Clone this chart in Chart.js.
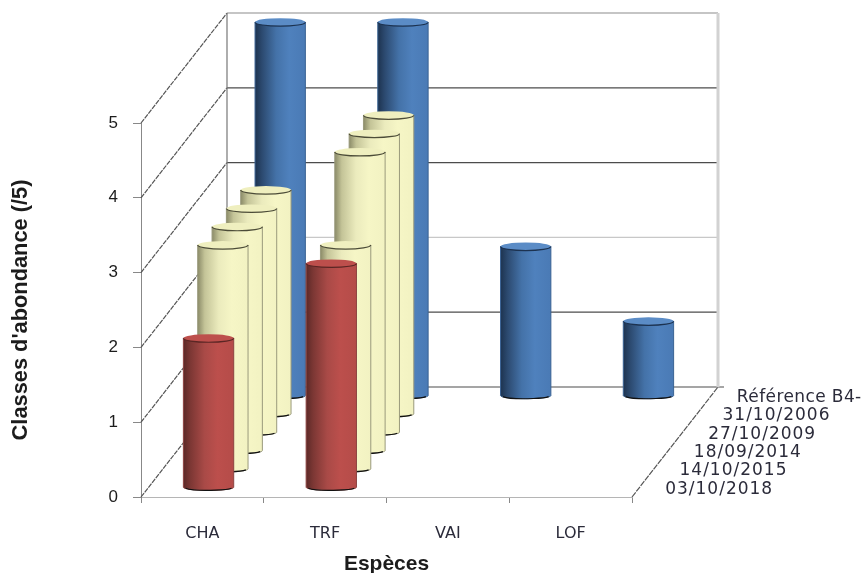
<!DOCTYPE html>
<html>
<head>
<meta charset="utf-8">
<title>Classes d'abondance</title>
<script src="https://cdn.jsdelivr.net/npm/chart.js@4"></script>
<style>
html, body { margin: 0; background: #fff; }
canvas { display: block; filter: blur(0.5px); }
</style>
</head>
<body>
<canvas id="chart" width="864" height="573"></canvas>
<script>
const categories = ['CHA', 'TRF', 'VAI', 'LOF'];
// front to back, same order as the depth axis
const seriesNames = ['03/10/2018', '14/10/2015', '18/09/2014', '27/10/2009', '31/10/2006', 'Référence B4-'];
const serie2018 = [2, 3, null, null];
const serie2015 = [3, 3, null, null];
const serie2014 = [3, 4, null, null];
const serie2009 = [3, 4, null, null];
const serie2006 = [3, 4, null, null];
const serieRef = [5, 5, 2, 1];
const seriesValues = [serie2018, serie2015, serie2014, serie2009, serie2006, serieRef];
const yTicks = [0, 1, 2, 3, 4, 5];

// look of the 3d box
const DEPTH_X = 86;
const DEPTH_Y = -110;
const ELLIPSE_RY = 4;

const palettes = {
    red: {
        stops: ['#5c2927', '#7c3734', '#a94a47', '#bc4f4c', '#b54c49'],
        top: '#bd4f4c', rim: '#5a2624', edge: '#8c4341'
    },
    yellow: {
        stops: ['#8b8b68', '#c4c498', '#ebebbd', '#f6f6c6', '#f2f2c2'],
        top: '#efefbf', rim: '#4c4c38', edge: '#9a9a7c'
    },
    blue: {
        stops: ['#1d334f', '#2c4a70', '#4472a8', '#4f81bd', '#4a7ab5'],
        top: '#5b8cc6', rim: '#1c3250', edge: '#3a6394'
    }
};
const seriesPalettes = ['red', 'yellow', 'yellow', 'yellow', 'yellow', 'blue'];

function depthStep(i) {
    const t = (i + 0.5) / seriesNames.length;
    return { x: DEPTH_X * t, y: DEPTH_Y * t };
}

function drawCylinder(ctx, cx, top, bottom, w, pal) {
    const rx = w / 2;
    const left = cx - rx;
    const grad = ctx.createLinearGradient(left, 0, left + w, 0);
    [0, 0.14, 0.42, 0.68, 1].forEach((p, i) => grad.addColorStop(p, pal.stops[i]));

    ctx.beginPath();
    ctx.moveTo(left, top);
    ctx.lineTo(left, bottom);
    ctx.ellipse(cx, bottom, rx, ELLIPSE_RY - 1, 0, Math.PI, 0, true);
    ctx.lineTo(left + w, top);
    ctx.closePath();
    ctx.fillStyle = grad;
    ctx.fill();
    ctx.strokeStyle = pal.edge;
    ctx.lineWidth = 1;
    ctx.stroke();

    // dark line under the foot
    ctx.beginPath();
    ctx.ellipse(cx, bottom, rx - 1, ELLIPSE_RY - 1, 0, Math.PI * 0.9, Math.PI * 0.1, true);
    ctx.strokeStyle = '#111';
    ctx.lineWidth = 1.2;
    ctx.stroke();

    // top disc
    ctx.beginPath();
    ctx.ellipse(cx, top, rx, ELLIPSE_RY, 0, 0, Math.PI * 2);
    ctx.fillStyle = pal.top;
    ctx.fill();
    ctx.beginPath();
    ctx.ellipse(cx, top, rx, ELLIPSE_RY, 0, Math.PI, 0, true);
    ctx.strokeStyle = pal.rim;
    ctx.lineWidth = 1.2;
    ctx.stroke();
}

const box3d = {
    id: 'box3d',
    beforeDatasetsDraw(chart) {
        const { ctx, scales: { x, y } } = chart;
        const bottom = y.getPixelForValue(0);
        ctx.save();

        // side wall and back wall grid lines
        y.ticks.forEach(t => {
            const py = y.getPixelForValue(t.value);
            ctx.beginPath();
            ctx.moveTo(x.left, py);
            ctx.lineTo(x.left + DEPTH_X, py + DEPTH_Y);
            ctx.strokeStyle = '#555';
            ctx.lineWidth = 1.2;
            ctx.setLineDash([5, 1]);
            ctx.stroke();
            ctx.setLineDash([]);
            ctx.beginPath();
            ctx.moveTo(x.left + DEPTH_X, py + DEPTH_Y);
            ctx.lineTo(x.right + DEPTH_X + (t.value === 0 ? 6 : 0), py + DEPTH_Y);
            ctx.strokeStyle = t.value === 2 ? '#c8c8c8' : (t.value === 5 ? '#8c8c8c' : '#4c4c4c');
            ctx.stroke();
        });

        // back wall edges
        ctx.beginPath();
        ctx.moveTo(x.left + DEPTH_X, bottom + DEPTH_Y);
        ctx.lineTo(x.left + DEPTH_X, y.top + DEPTH_Y);
        ctx.strokeStyle = '#777';
        ctx.lineWidth = 1.2;
        ctx.stroke();
        ctx.beginPath();
        ctx.moveTo(x.right + DEPTH_X, bottom + DEPTH_Y);
        ctx.lineTo(x.right + DEPTH_X, y.top + DEPTH_Y);
        ctx.strokeStyle = '#d2d2d2';
        ctx.lineWidth = 3;
        ctx.stroke();

        // floor edge
        ctx.beginPath();
        ctx.moveTo(x.right, bottom);
        ctx.lineTo(x.right + DEPTH_X, bottom + DEPTH_Y);
        ctx.strokeStyle = '#555';
        ctx.lineWidth = 1.2;
        ctx.setLineDash([6, 1]);
        ctx.stroke();
        ctx.restore();
    },
    beforeDatasetDraw(chart, args) {
        const ctx = chart.ctx;
        const d = depthStep(args.index);
        const pal = palettes[seriesPalettes[args.index]];
        ctx.save();
        args.meta.data.forEach((bar, i) => {
            if (chart.data.datasets[args.index].data[i] == null) return;
            drawCylinder(ctx, bar.x + d.x - 1, bar.y + d.y, bar.base + d.y, bar.width, pal);
        });
        ctx.restore();
        return false;
    },
    afterDraw(chart) {
        const { ctx, scales: { x, y } } = chart;
        const bottom = y.getPixelForValue(0);
        ctx.save();
        ctx.font = '17px "DejaVu Sans"';
        ctx.fillStyle = '#2b2b3a';
        ctx.textAlign = 'left';
        ctx.textBaseline = 'middle';
        seriesNames.forEach((name, i) => {
            const d = depthStep(i);
            // the dates run a little wider than the last label
            ctx.letterSpacing = i < seriesNames.length - 1 ? '1px' : '0.4px';
            ctx.fillText(name, x.right + d.x + 26, bottom + d.y + 1.5);
        });
        ctx.restore();
    }
};

new Chart(document.getElementById('chart'), {
    type: 'bar',
    data: {
        labels: categories,
        datasets: seriesNames.map((name, i) => ({
            label: name,
            data: seriesValues[i],
            backgroundColor: palettes[seriesPalettes[i]].stops[3]
        }))
    },
    options: {
        responsive: false,
        animation: false,
        layout: { padding: { top: 123, right: 232, bottom: 0, left: 0 } },
        datasets: { bar: { grouped: false, categoryPercentage: 1, barPercentage: 0.41 } },
        plugins: { legend: { display: false }, tooltip: { enabled: false } },
        scales: {
            x: {
                afterFit: s => { s.height = 76; },
                grid: { drawOnChartArea: false, tickLength: 6, color: '#888' },
                border: { color: '#b5b5b5', dash: [3, 1] },
                ticks: { padding: 21, color: '#2b2b3a', font: { family: '"DejaVu Sans"', size: 16 } },
                title: {
                    display: true,
                    text: 'Espèces',
                    color: '#1c1c1c',
                    padding: { top: 0, bottom: -4 },
                    font: { family: '"Liberation Sans"', size: 21, weight: 'bold' }
                }
            },
            y: {
                min: yTicks[0],
                max: yTicks[yTicks.length - 1],
                afterFit: s => { s.width = 141; },
                grid: { drawOnChartArea: false, tickLength: 8, color: '#888' },
                border: { color: '#888' },
                ticks: { stepSize: 1, padding: 15, color: '#1c1c1c', font: { family: '"Liberation Sans"', size: 17 } },
                title: {
                    display: true,
                    text: "Classes d'abondance (/5)",
                    color: '#1c1c1c',
                    padding: { top: 8, bottom: 0 },
                    font: { family: '"Liberation Sans"', size: 21.8, weight: 'bold' }
                }
            }
        }
    },
    plugins: [box3d]
});
</script>
</body>
</html>
